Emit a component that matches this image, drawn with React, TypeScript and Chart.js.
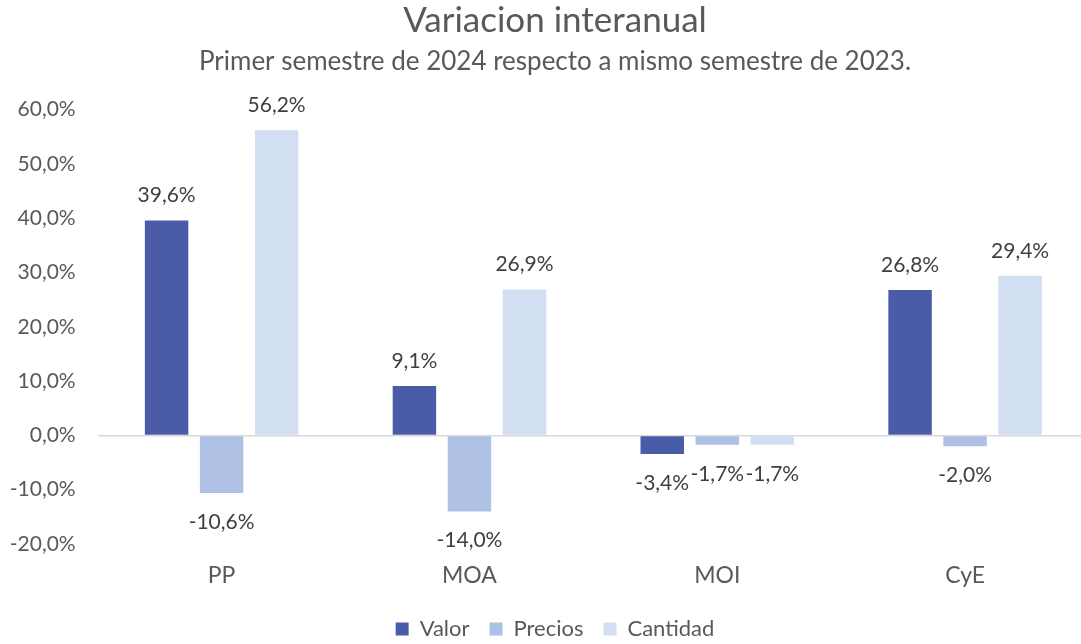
import React, { useEffect, useRef } from "react";
import { Chart, registerables } from "chart.js";

Chart.register(...registerables);

const categories = ["PP", "MOA", "MOI", "CyE"];
const valor = [39.6, 9.1, -3.4, 26.8];
const precios = [-10.6, -14.0, -1.7, -2.0];
const cantidad = [56.2, 26.9, -1.7, 29.4];
const seriesNames = ["Valor", "Precios", "Cantidad"];
const seriesColors = ["#4A5BA8", "#AEC1E4", "#D2DEF1"];
const yMin = -20;
const yMax = 60;
const yStep = 10;

const FONT = "Lato, 'Open Sans', sans-serif";

const fmt = (v: number) => v.toFixed(1).replace(".", ",") + "%";

const dataLabelPlugin = {
  id: "dataLabels",
  afterDatasetsDraw(chart: any) {
    const ctx = chart.ctx;
    ctx.save();
    ctx.font = `21px ${FONT}`;
    ctx.fillStyle = "#404040";
    ctx.textAlign = "center";
    ctx.textBaseline = "alphabetic";
    chart.data.datasets.forEach((ds: any, di: number) => {
      const meta = chart.getDatasetMeta(di);
      meta.data.forEach((bar: any, i: number) => {
        const v = ds.data[i] as number;
        const y = v >= 0 ? bar.y - 18 : bar.y + 36;
        ctx.fillText(fmt(v), bar.x, y);
      });
    });
    ctx.restore();
  },
};

export default function App() {
  const ref = useRef<HTMLCanvasElement>(null);
  useEffect(() => {
    if (!ref.current) return;
    const data = [valor, precios, cantidad];
    const chart = new Chart(ref.current, {
      type: "bar",
      data: {
        labels: categories,
        datasets: seriesNames.map((name, k) => ({
          label: name,
          data: data[k],
          backgroundColor: seriesColors[k],
          borderWidth: 0,
          categoryPercentage: 0.666,
          barPercentage: 0.79,
        })),
      },
      options: {
        responsive: false,
        animation: false,
        devicePixelRatio: 1,
        layout: { padding: { left: 0, right: 0, top: 0, bottom: 0 } },
        plugins: {
          title: {
            display: true,
            text: "Variacion interanual",
            color: "#595959",
            font: { family: FONT, size: 35, weight: "normal" },
            padding: { top: 0, bottom: 0 },
          },
          subtitle: {
            display: true,
            text: "Primer semestre de 2024 respecto a mismo semestre de 2023.",
            color: "#595959",
            font: { family: FONT, size: 26, weight: "normal" },
            padding: { top: 4.4, bottom: 32.1 },
          },
          legend: {
            position: "bottom",
            labels: {
              boxWidth: 13,
              boxHeight: 13,
              color: "#595959",
              font: { family: FONT, size: 22 },
              padding: 20,
            },
          },
          tooltip: { enabled: false },
        },
        scales: {
          x: {
            grid: { display: false, drawTicks: false },
            border: { display: false },
            ticks: {
              color: "#595959",
              font: { family: FONT, size: 23 },
              padding: 18,
            },
            afterFit: (s: any) => {
              s.height = 54;
            },
          },
          y: {
            min: yMin,
            max: yMax,
            border: { display: false },
            grid: {
              drawTicks: false,
              lineWidth: 1.5,
              color: (c: any) => (c.tick && c.tick.value === 0 ? "#D9D9D9" : "rgba(0,0,0,0)"),
            },
            ticks: {
              stepSize: yStep,
              color: "#595959",
              font: { family: FONT, size: 21 },
              padding: 22,
              callback: (v: any) => fmt(Number(v)),
            },
            afterFit: (s: any) => {
              s.width = 97.7;
            },
          },
          yRight: {
            position: "right",
            display: true,
            grid: { display: false, drawTicks: false },
            border: { display: false },
            ticks: { display: false },
            afterFit: (s: any) => {
              s.width = 21;
            },
          },
        },
      },
      plugins: [dataLabelPlugin],
    } as any);
    return () => chart.destroy();
  }, []);
  return (
    <div
      style={{
        position: "fixed",
        left: 0,
        top: 0,
        width: 1081,
        height: 644,
        overflow: "hidden",
        background: "#fff",
      }}
    >
      <canvas ref={ref} width={1110} height={650} style={{ display: "block" }} />
    </div>
  );
}
